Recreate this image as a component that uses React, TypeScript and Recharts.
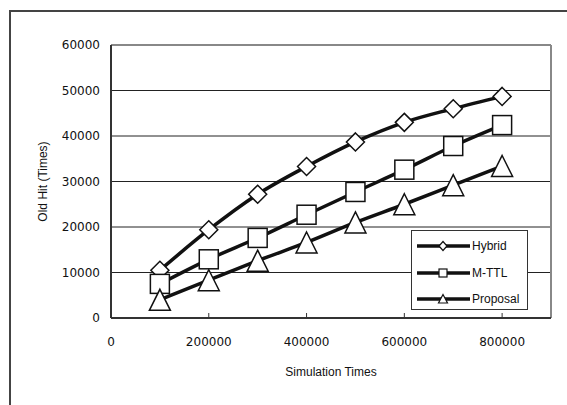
import React from "react";
import {
  LineChart,
  Line,
  XAxis,
  YAxis,
  CartesianGrid,
  ReferenceLine,
  Legend,
  Label,
} from "recharts";

// simulation times (x values)
const simTimes = [100000, 200000, 300000, 400000, 500000, 600000, 700000, 800000];
// old hit counts
const hybrid = [10500, 19400, 27200, 33300, 38700, 43000, 46000, 48700];
const mttl = [7500, 12900, 17600, 22700, 27700, 32600, 37800, 42400];
const proposal = [4000, 8300, 12600, 16600, 21000, 25000, 29200, 33400];

const xTicks = [0, 200000, 400000, 600000, 800000];
const yTicks = [0, 10000, 20000, 30000, 40000, 50000, 60000];

const seriesNames = ["Hybrid", "M-TTL", "Proposal"];

const data = simTimes.map((t, i) => ({
  t,
  hybrid: hybrid[i],
  mttl: mttl[i],
  proposal: proposal[i],
}));

const tickFont = "'DejaVu Sans', sans-serif";
const labelFont = "'Liberation Sans', Arial, sans-serif";

// marker shapes, white fill with black outline
function Diamond({ cx, cy, r = 9 }: { cx: number; cy: number; r?: number }) {
  return (
    <polygon
      points={`${cx},${cy - r} ${cx + r},${cy} ${cx},${cy + r} ${cx - r},${cy}`}
      fill="#fff"
      stroke="#111"
      strokeWidth={1.5}
    />
  );
}

function Square({ cx, cy, r = 9.5 }: { cx: number; cy: number; r?: number }) {
  return (
    <rect
      x={cx - r}
      y={cy - r}
      width={r * 2}
      height={r * 2}
      fill="#fff"
      stroke="#111"
      strokeWidth={1.5}
    />
  );
}

function Triangle({ cx, cy, r = 10.5 }: { cx: number; cy: number; r?: number }) {
  return (
    <polygon
      points={`${cx},${cy - r} ${cx + r},${cy + r} ${cx - r},${cy + r}`}
      fill="#fff"
      stroke="#111"
      strokeWidth={1.5}
    />
  );
}

const shapes = [Diamond, Square, Triangle];

const makeDot = (idx: number) => (props: any) => {
  const { cx, cy, index } = props;
  const Shape = shapes[idx];
  return (
    <g key={`dot-${idx}-${index}`}>
      <Shape cx={cx} cy={cy} />
    </g>
  );
};

// bottom axis tick: label below, short tick mark pointing up into the plot
const XTick = (props: any) => {
  const { x, y, payload } = props;
  return (
    <g>
      <line x1={x} y1={y} x2={x} y2={y - 5} stroke="#333" strokeWidth={1} />
      <text
        x={x}
        y={y + 28}
        textAnchor="middle"
        fontSize={12}
        fontFamily={tickFont}
        fill="#111"
      >
        {payload.value}
      </text>
    </g>
  );
};

const LegendBox = () => {
  const markers = [
    <polygon key="d" points="27,1.5 31,6 27,10.5 23,6" fill="#fff" stroke="#111" strokeWidth={1.2} />,
    <rect key="s" x={23} y={2} width={8} height={8} fill="#fff" stroke="#111" strokeWidth={1.2} />,
    <polygon key="t" points="27,1.5 31.5,10 22.5,10" fill="#fff" stroke="#111" strokeWidth={1.2} />,
  ];
  return (
    <div
      style={{
        width: 117,
        height: 80,
        border: "1px solid #333",
        background: "#fff",
        boxSizing: "border-box",
        paddingTop: 2,
      }}
    >
      {seriesNames.map((name, i) => (
        <div
          key={name}
          style={{ display: "flex", alignItems: "center", height: 26.5 }}
        >
          <svg width={60} height={12} style={{ marginLeft: 4 }}>
            <line x1={1} y1={6} x2={54} y2={6} stroke="#111" strokeWidth={3.5} />
            {markers[i]}
          </svg>
          <span
            style={{
              fontFamily: labelFont,
              fontSize: 12,
              color: "#111",
              marginLeft: -4,
            }}
          >
            {name}
          </span>
        </div>
      ))}
    </div>
  );
};

export default function App() {
  return (
    <div
      style={{
        position: "absolute",
        left: 0,
        top: 0,
        width: 567,
        height: 405,
        overflow: "hidden",
        background: "#fff",
      }}
    >
      {/* outer chart frame, cropped at right and bottom */}
      <div
        style={{
          position: "absolute",
          left: 9,
          top: 10,
          width: 700,
          height: 600,
          borderLeft: "2px solid #444",
          borderTop: "2px solid #444",
        }}
      />
      <div style={{ position: "absolute", left: 0, top: 0 }}>
        <LineChart
          width={567}
          height={405}
          data={data}
          margin={{ top: 45, right: 16, left: 0, bottom: 0 }}
        >
          <CartesianGrid horizontal vertical={false} stroke="#222" strokeWidth={1} />
          <XAxis
            dataKey="t"
            type="number"
            domain={[0, 900000]}
            ticks={xTicks}
            height={87}
            tickSize={0}
            tickMargin={0}
            tick={<XTick />}
            axisLine={{ stroke: "#333", strokeWidth: 2 }}
            tickLine={false}
          >
            <Label
              value="Simulation Times"
              position="insideBottom"
              offset={29}
              style={{ fontFamily: labelFont, fontSize: 12, fill: "#111" }}
            />
          </XAxis>
          <YAxis
            type="number"
            domain={[0, 60000]}
            ticks={yTicks}
            width={111}
            tickSize={0}
            tickMargin={11}
            tickLine={false}
            axisLine={{ stroke: "#333", strokeWidth: 2 }}
            tick={{ fontFamily: tickFont, fontSize: 12, fill: "#111" }}
          >
            <Label
              value="Old Hit (Times)"
              position="center"
              angle={-90}
              dx={-13}
              style={{ fontFamily: labelFont, fontSize: 12, fill: "#111" }}
            />
          </YAxis>
          <ReferenceLine y={60000} stroke="#888" strokeWidth={2} />
          <ReferenceLine x={900000} stroke="#888" strokeWidth={2} />
          <Legend
            layout="vertical"
            align="center"
            verticalAlign="middle"
            content={<LegendBox />}
            wrapperStyle={{ position: "absolute", left: 411, top: 230, width: 117, height: 80 }}
          />
          <Line
            type="monotone"
            dataKey="hybrid"
            name="Hybrid"
            stroke="#111"
            strokeWidth={3.5}
            dot={makeDot(0)}
            activeDot={false}
            isAnimationActive={false}
          />
          <Line
            type="monotone"
            dataKey="mttl"
            name="M-TTL"
            stroke="#111"
            strokeWidth={3.5}
            dot={makeDot(1)}
            activeDot={false}
            isAnimationActive={false}
          />
          <Line
            type="monotone"
            dataKey="proposal"
            name="Proposal"
            stroke="#111"
            strokeWidth={3.5}
            dot={makeDot(2)}
            activeDot={false}
            isAnimationActive={false}
          />
        </LineChart>
      </div>
    </div>
  );
}
